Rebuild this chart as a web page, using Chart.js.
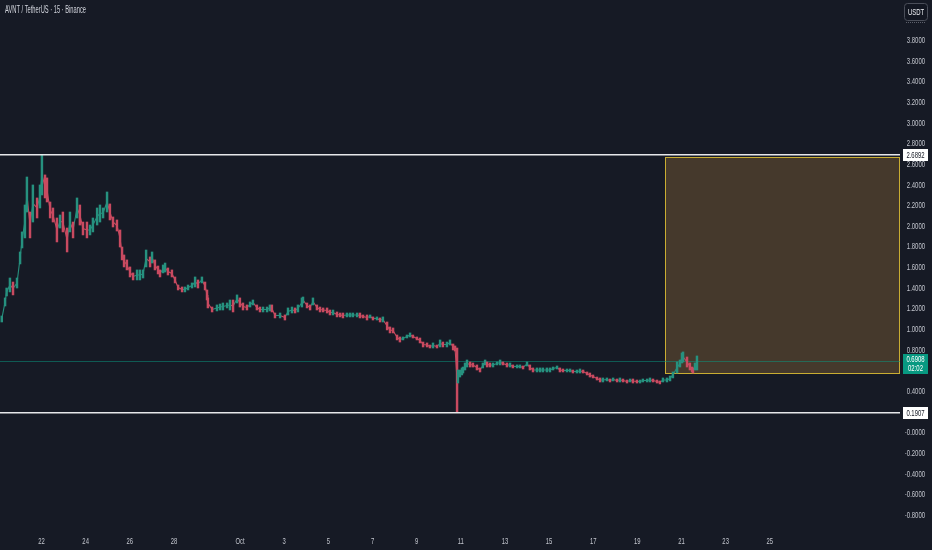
<!DOCTYPE html>
<html><head><meta charset="utf-8">
<script src="https://cdn.jsdelivr.net/npm/chart.js@4.4.1/dist/chart.umd.min.js"></script>
<style>html,body{margin:0;padding:0;background:#161a25;overflow:hidden}#wrap{width:932px;height:550px;position:relative}</style>
</head><body><div id="wrap"><canvas id="c"></canvas></div>
<script>
// time in days from Sep 22 00:00
const times=[-1.80,-1.65,-1.58,-1.43,-1.29,-1.11,-0.97,-0.88,-0.75,-0.66,-0.52,-0.39,-0.20,-0.07,0.02,0.16,0.25,0.39,0.52,0.70,0.84,0.97,1.16,1.29,1.43,1.61,1.74,1.88,2.06,2.20,2.33,2.52,2.65,2.79,2.97,3.10,3.24,3.42,3.56,3.65,3.74,3.87,4.01,4.15,4.33,4.46,4.60,4.74,4.92,5.01,5.14,5.28,5.37,5.51,5.60,5.73,5.91,6.05,6.19,6.37,6.50,6.64,6.82,6.96,7.09,7.27,7.41,7.50,7.54,7.73,7.95,8.09,8.22,8.41,8.54,8.68,8.86,8.99,9.13,9.31,9.45,9.58,9.76,9.90,10.04,10.22,10.35,10.44,10.58,10.81,11.03,11.17,11.35,11.49,11.62,11.80,11.85,12.03,12.17,12.30,12.48,12.62,12.76,12.94,13.07,13.21,13.39,13.53,13.66,13.84,13.98,14.11,14.30,14.43,14.57,14.75,14.89,15.02,15.20,15.34,15.47,15.66,15.79,15.93,16.11,16.24,16.38,16.56,16.70,16.83,17.01,17.15,17.29,17.47,17.60,17.74,17.92,18.06,18.19,18.37,18.51,18.65,18.74,18.83,18.87,18.96,19.05,19.10,19.19,19.28,19.42,19.55,19.73,19.87,20.00,20.10,20.19,20.32,20.46,20.64,20.78,20.91,21.09,21.23,21.36,21.55,21.68,21.82,22.00,22.13,22.27,22.45,22.59,22.72,22.90,23.04,23.18,23.36,23.49,23.63,23.81,23.95,24.08,24.26,24.40,24.54,24.72,24.85,24.99,25.17,25.31,25.44,25.62,25.76,25.90,26.08,26.21,26.35,26.53,26.67,26.80,26.98,27.12,27.25,27.44,27.57,27.71,27.89,28.02,28.16,28.34,28.48,28.61,28.80,28.93,29.02,29.07,29.25,29.38,29.48,29.52,29.61,29.70];
const highs=[1.127,1.302,1.398,1.495,1.456,1.495,1.747,1.941,2.202,2.473,
2.134,2.396,2.270,2.396,2.689,2.493,2.464,2.231,2.173,2.076,
2.105,2.134,1.979,2.134,2.037,2.270,2.202,2.037,2.037,2.008,
2.076,2.173,2.202,2.173,2.328,2.212,2.086,2.057,1.960,1.795,
1.718,1.670,1.602,1.544,1.573,1.573,1.573,1.766,1.699,1.747,
1.670,1.611,1.573,1.621,1.640,1.592,1.573,1.505,1.427,1.408,
1.408,1.427,1.447,1.505,1.476,1.505,1.456,1.379,1.302,1.214,
1.234,1.243,1.253,1.253,1.282,1.282,1.331,1.302,1.253,1.234,
1.263,1.282,1.234,1.214,1.214,1.214,1.234,1.234,1.156,1.156,
1.137,1.205,1.214,1.205,1.234,1.302,1.311,1.253,1.234,1.302,
1.234,1.214,1.205,1.205,1.185,1.185,1.166,1.156,1.156,1.156,
1.156,1.156,1.156,1.156,1.137,1.137,1.137,1.118,1.118,1.108,
1.118,1.069,1.021,1.011,0.943,0.924,0.924,0.943,0.963,0.943,
0.924,0.914,0.875,0.866,0.846,0.866,0.846,0.895,0.875,0.875,
0.895,0.856,0.837,0.817,0.604,0.604,0.624,0.633,0.672,0.701,
0.682,0.672,0.653,0.624,0.672,0.701,0.682,0.672,0.672,0.682,
0.701,0.682,0.672,0.672,0.653,0.653,0.653,0.643,0.682,0.653,
0.624,0.624,0.624,0.624,0.624,0.624,0.633,0.643,0.624,0.614,
0.614,0.614,0.604,0.604,0.614,0.604,0.585,0.575,0.556,0.536,
0.527,0.527,0.527,0.517,0.527,0.517,0.527,0.517,0.507,0.517,
0.517,0.507,0.507,0.517,0.517,0.527,0.517,0.507,0.498,0.527,
0.527,0.546,0.585,0.682,0.701,0.769,0.779,0.730,0.672,0.633,
0.624,0.672,0.740];
const lows=[1.069,1.224,1.321,1.360,1.331,1.398,1.631,1.786,1.883,2.134,
1.883,2.037,2.076,2.173,2.299,2.270,2.231,2.076,2.037,1.844,
1.979,1.941,1.747,1.941,1.883,2.076,2.008,1.912,1.883,1.912,
1.941,2.008,2.037,2.076,2.134,2.057,1.989,1.950,1.795,1.670,
1.602,1.573,1.505,1.476,1.476,1.476,1.495,1.602,1.602,1.640,
1.573,1.534,1.505,1.544,1.553,1.524,1.505,1.447,1.379,1.360,
1.360,1.379,1.398,1.408,1.398,1.447,1.379,1.282,1.205,1.166,
1.176,1.185,1.185,1.205,1.185,1.166,1.253,1.214,1.185,1.185,
1.214,1.234,1.185,1.166,1.166,1.166,1.176,1.166,1.108,1.108,
1.088,1.137,1.156,1.156,1.166,1.214,1.253,1.205,1.185,1.234,
1.185,1.166,1.166,1.156,1.137,1.137,1.118,1.118,1.108,1.118,
1.118,1.118,1.118,1.108,1.108,1.088,1.108,1.088,1.088,1.069,
1.069,0.992,0.963,0.963,0.895,0.875,0.895,0.914,0.924,0.914,
0.895,0.866,0.827,0.827,0.817,0.817,0.817,0.827,0.827,0.827,
0.846,0.798,0.788,0.1907,0.478,0.536,0.556,0.575,0.604,0.633,
0.633,0.633,0.604,0.585,0.624,0.653,0.633,0.633,0.633,0.653,
0.653,0.653,0.633,0.633,0.624,0.624,0.624,0.614,0.643,0.604,
0.585,0.585,0.585,0.585,0.585,0.585,0.604,0.614,0.585,0.585,
0.585,0.585,0.575,0.575,0.575,0.575,0.556,0.536,0.527,0.507,
0.488,0.488,0.498,0.488,0.498,0.488,0.488,0.488,0.478,0.488,
0.478,0.478,0.478,0.488,0.488,0.488,0.488,0.478,0.469,0.488,
0.488,0.498,0.527,0.575,0.633,0.672,0.682,0.633,0.604,0.585,
0.575,0.604,0.604];

const xTickDays=[0,2,4,6,9,11,13,15,17,19,21,23,25,27,29,31,33];
const xTickLabels=['22','24','26','28','Oct','3','5','7','9','11','13','15','17','19','21','23','25'];
const yTickValues=[-0.8,-0.6,-0.4,-0.2,0,0.4,0.8,1.0,1.2,1.4,1.6,1.8,2.0,2.2,2.4,2.6,2.8,3.0,3.2,3.4,3.6,3.8];
const yTickLabels=['-0.8000','-0.6000','-0.4000','-0.2000','-0.0000','0.4000','0.8000','1.0000','1.2000','1.4000','1.6000','1.8000','2.0000','2.2000','2.4000','2.6000','2.8000','3.0000','3.2000','3.4000','3.6000','3.8000'];
const levelHigh=2.6892, levelLow=0.1907, lastPrice=0.6908, countdown='02:02';
const boxStart=28.24, boxTop=2.670, boxBottom=0.572;
const titleText='AVNT / TetherUS · 15 · Binance';
const currency='USDT';

const FONT="'Liberation Sans',Arial,sans-serif";
const UP='#26917f', DOWN='#c94a60';

const points=times.map((t,i)=>({x:t,y:[lows[i],highs[i]]}));
const mids=times.map((t,i)=>({x:t,y:(lows[i]+highs[i])/2}));
const colors=times.map((t,i)=>{
  if(i===0) return UP;
  const m=(highs[i]+lows[i]), p=(highs[i-1]+lows[i-1]);
  return m>=p?UP:DOWN;
});

function sq(ctx,text,x,y,align,size,sx,color,weight){
  ctx.save();
  ctx.font=(weight?weight+' ':'')+size+'px '+FONT;
  ctx.textAlign=align; ctx.textBaseline='middle'; ctx.fillStyle=color;
  ctx.translate(x,y); ctx.scale(sx,1); ctx.fillText(text,0,0);
  ctx.restore();
}

const overlay={
  id:'overlay',
  beforeDatasetsDraw(chart){
    const {ctx,chartArea:a,scales:{x,y}}=chart;
    ctx.save();
    const bx=Math.round(x.getPixelForValue(boxStart)), bt=Math.round(y.getPixelForValue(boxTop)), bb=Math.round(y.getPixelForValue(boxBottom));
    ctx.fillStyle='#45392c';
    ctx.fillRect(bx,bt,a.right-bx,bb-bt);
    ctx.strokeStyle='#c9ad32'; ctx.lineWidth=1;
    ctx.strokeRect(bx+0.5,bt+0.5,a.right-bx-1,bb-bt);
    const py=Math.round(y.getPixelForValue(lastPrice))+0.5;
    ctx.strokeStyle='rgba(8,153,129,0.5)'; ctx.lineWidth=1;
    ctx.beginPath(); ctx.moveTo(a.left,py); ctx.lineTo(a.right,py); ctx.stroke();
    ctx.restore();
  },
  afterDatasetsDraw(chart){
    const {ctx,chartArea:a,scales:{y}}=chart;
    ctx.save();
    ctx.strokeStyle='#e6e7ea'; ctx.lineWidth=1.5;
    [levelHigh,levelLow].forEach(v=>{
      const py=y.getPixelForValue(v);
      ctx.beginPath(); ctx.moveTo(a.left,py); ctx.lineTo(a.right,py); ctx.stroke();
    });
    ctx.restore();
  },
  afterDraw(chart){
    const {ctx,chartArea:a,scales:{x,y}}=chart;
    const LBL='#c3c6ce';
    // axis labels at the positions given by the library's scales
    y.ticks.forEach(t=>{
      const i=yTickValues.indexOf(t.value);
      if(i<0) return;
      sq(ctx,yTickLabels[i],925,y.getPixelForValue(t.value)+0.5,'right',9,0.66,LBL);
    });
    x.ticks.forEach(t=>{
      const i=xTickDays.indexOf(t.value);
      if(i<0) return;
      sq(ctx,xTickLabels[i],x.getPixelForValue(t.value),541,'center',9.5,0.62,LBL);
    });
    ctx.save();
    const bx=a.right+3, bw=25;
    [levelHigh,levelLow].forEach(v=>{
      const py=Math.round(y.getPixelForValue(v));
      ctx.fillStyle='#ffffff'; ctx.fillRect(bx,py-6,bw,12);
      sq(ctx,v.toFixed(4),bx+bw/2,py+0.5,'center',9,0.66,'#131722');
    });
    const lp=Math.round(y.getPixelForValue(lastPrice));
    ctx.fillStyle='#089981'; ctx.fillRect(bx,lp-7,bw,20);
    sq(ctx,lastPrice.toFixed(4),bx+bw/2,lp-1,'center',9,0.66,'#ffffff');
    sq(ctx,countdown,bx+bw/2,lp+8,'center',9,0.66,'#ffffff');
    // title
    ctx.font='10px '+FONT;
    const tw=ctx.measureText(titleText).width;
    sq(ctx,titleText,5,10.5,'left',10,81/tw,'#d1d4dc');
    // currency button
    ctx.fillStyle='#131722'; ctx.strokeStyle='#4a4e59'; ctx.lineWidth=1;
    ctx.beginPath(); ctx.roundRect(904.5,3.5,23,17,3); ctx.fill(); ctx.stroke();
    sq(ctx,currency,916,12.5,'center',8.5,0.7,'#eceef2');
    ctx.strokeStyle='#5d606b'; ctx.setLineDash([1,1]);
    ctx.beginPath(); ctx.moveTo(906,22.5); ctx.lineTo(926,22.5); ctx.stroke();
    ctx.restore();
  }
};

function zeroPad(s){s.paddingLeft=0;s.paddingRight=0;s.paddingTop=0;s.paddingBottom=0;}

new Chart(document.getElementById('c'),{
  type:'bar',
  data:{datasets:[
    {type:'line',data:mids,borderWidth:1.1,pointRadius:0,tension:0,order:2,
      segment:{borderColor:c=>c.p1.parsed.y>=c.p0.parsed.y?UP:DOWN}},
    {type:'bar',data:points,backgroundColor:colors,borderWidth:0,barThickness:1.8,grouped:false,order:1}
  ]},
  options:{
    responsive:true,maintainAspectRatio:false,animation:false,
    layout:{padding:0},
    plugins:{legend:{display:false},tooltip:{enabled:false},title:{display:false}},
    scales:{
      x:{type:'linear',position:'bottom',min:-1.88,max:38.90,offset:false,
        grid:{display:false,drawTicks:false},border:{display:false},
        afterBuildTicks(s){s.ticks=xTickDays.map(v=>({value:v}));},
        ticks:{display:false},
        afterFit(s){s.height=22;zeroPad(s);}
      },
      y:{type:'linear',position:'right',min:-0.926,max:4.187,
        grid:{display:false,drawTicks:false},border:{display:false},
        afterBuildTicks(s){s.ticks=yTickValues.map(v=>({value:v}));},
        ticks:{display:false},
        afterFit(s){s.width=32;zeroPad(s);}
      }
    }
  },
  plugins:[overlay]
});
</script></body></html>
